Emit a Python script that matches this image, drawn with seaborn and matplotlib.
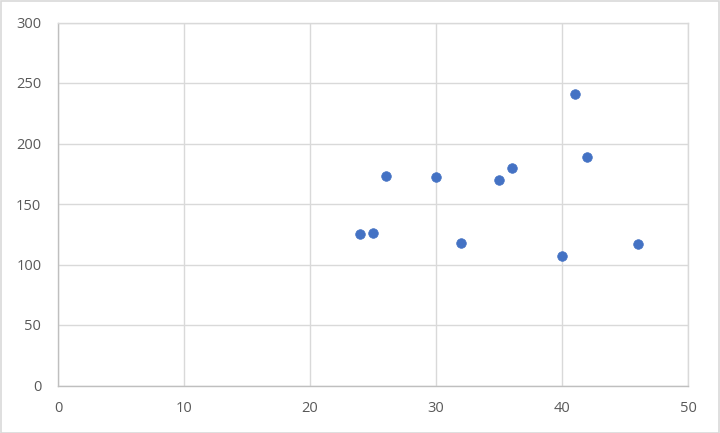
import pandas as pd
import seaborn as sns
import matplotlib.pyplot as plt
from matplotlib.patches import Rectangle

# Data
x_vals = [24, 25, 26, 30, 32, 35, 36, 40, 41, 42, 46]
y_vals = [125, 126, 173, 172, 118, 170, 180, 107, 241, 189, 117]
x_ticks = [0, 10, 20, 30, 40, 50]
y_ticks = [0, 50, 100, 150, 200, 250, 300]

df = pd.DataFrame({"x": x_vals, "y": y_vals})

sns.set_style("white")
plt.rcParams['font.family'] = ['Open Sans', 'DejaVu Sans']

fig = plt.figure(figsize=(7.2, 4.33), dpi=100)
ax = fig.add_axes([58 / 720, 1 - 385.5 / 433, 630 / 720, 363 / 433])

sns.scatterplot(data=df, x="x", y="y", ax=ax, color="#4472C4", s=48,
                edgecolor="#4472C4", linewidth=0.5, zorder=3)

ax.set_xlim(0, 50)
ax.set_ylim(0, 300)
ax.set_xticks(x_ticks)
ax.set_yticks(y_ticks)
ax.grid(True, color="#D9D9D9", linewidth=1)
ax.set_axisbelow(True)
ax.tick_params(length=0, labelsize=10.5, labelcolor="#595959")
ax.tick_params(axis="x", pad=11.5)
ax.tick_params(axis="y", pad=12)
ax.set_xlabel("")
ax.set_ylabel("")

for side in ["top", "right"]:
    ax.spines[side].set_color("#D9D9D9")
for side in ["left", "bottom"]:
    ax.spines[side].set_color("#BFBFBF")
for sp in ax.spines.values():
    sp.set_linewidth(1)

# light chart border like the original
fig.patches.append(Rectangle((0.001, 0.001), 0.997, 0.997, transform=fig.transFigure,
                             fill=False, edgecolor="#D9D9D9", linewidth=1.2))

fig.savefig("out.png", dpi=100)
plt.close(fig)
